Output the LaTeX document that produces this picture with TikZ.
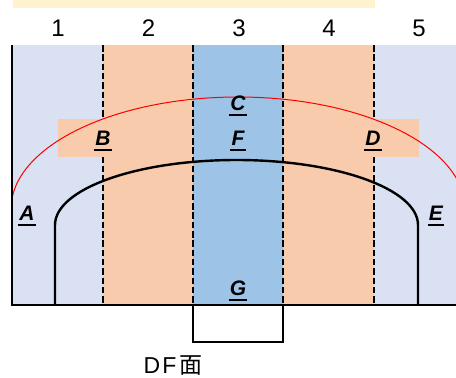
\documentclass[tikz,border=0pt]{standalone}
\usepackage{fontspec}
\setmainfont{Liberation Sans}
\newfontfamily\cjkfont{Noto Sans CJK JP}
\definecolor{lightcol}{HTML}{DAE1F2}
\definecolor{peach}{HTML}{F8CBAD}
\definecolor{midblue}{HTML}{9DC3E6}
\definecolor{paleyellow}{HTML}{FFF2CC}
\tikzset{
  numlab/.style={font=\fontsize{24}{24}\selectfont, inner sep=0pt, anchor=base},
  letlab/.style={font=\fontsize{21}{21}\selectfont\bfseries\itshape, inner sep=0pt, anchor=base},
  ulline/.style={line width=2pt},
  divline/.style={line width=2.4pt, dash pattern=on 6.5pt off 2.8pt},
  blackline/.style={line width=2.6pt},
  archline/.style={line width=2.4pt},
  redline/.style={red, line width=1pt},
}
\newcommand\letnode[3]{\node[letlab] (#1) at (#2) {#3};
  \draw[ulline] ([xshift=-1pt,yshift=-5pt]#1.base west) -- ([xshift=1pt,yshift=-5pt]#1.base east);}
\begin{document}
\begin{tikzpicture}[x=1pt,y=-1pt]
\useasboundingbox (0,0) rectangle (456,378);
% top bar
\fill[paleyellow] (13,0) rectangle (375,8);
% columns
\fill[lightcol] (12,45) rectangle (103,304);
\fill[peach] (103,45) rectangle (193,304);
\fill[peach] (283,45) rectangle (374,304);
\fill[lightcol] (374,45) rectangle (456,304);
\coordinate (b1t) at (103,45); \coordinate (b1b) at (103,304);
\coordinate (b4t) at (374,45); \coordinate (b4b) at (374,304);
\draw[divline] (b1t) -- (b1b);
\draw[divline] (b4t) -- (b4b);
% horizontal band
\fill[peach] (58,119) rectangle (419,157);
% middle column
\fill[midblue] (193,45) rectangle (283,304);
\coordinate (b2t) at (193,45); \coordinate (b2b) at (193,304);
\coordinate (b3t) at (283,45); \coordinate (b3b) at (283,304);
\draw[divline] (b2t) -- (b2b);
\draw[divline] (b3t) -- (b3b);
% red ellipse
\begin{scope}
\clip (12,0) rectangle (456,207);
\draw[redline] (238,209) ellipse [x radius=227pt, y radius=112pt];
\end{scope}
% black arch
\coordinate (archL) at (55,304);
\coordinate (archR) at (418,304);
\draw[archline] (archL) -- (55,225) arc[start angle=180, end angle=0, x radius=181.5pt, y radius=65pt] -- (archR);
% frame
\coordinate (frTL) at (12,45);
\coordinate (frBL) at (12,305);
\coordinate (frBR) at (456,305);
\draw[blackline] (frTL) -- (frBL) -- (frBR);
\draw[blackline] (193,305) rectangle (283,342);
% numbers
\node[numlab] (n1) at (58,36) {1};
\node[numlab] (n2) at (148.5,36) {2};
\node[numlab] (n3) at (239,36) {3};
\node[numlab] (n4) at (329,36) {4};
\node[numlab] (n5) at (419,36) {5};
% letters
\letnode{A}{27,220}{A}
\letnode{B}{103,145}{B}
\letnode{C}{238,110}{C}
\letnode{D}{373,145}{D}
\letnode{E}{436,220}{E}
\letnode{F}{238,145}{F}
\letnode{G}{238,295}{G}
% bottom label
\node[font=\fontsize{23}{23}\selectfont, inner sep=0pt, anchor=base] (df) at (173,373) {D\hspace{2pt}F\hspace{3pt}{\cjkfont 面}};
\end{tikzpicture}
\end{document}
